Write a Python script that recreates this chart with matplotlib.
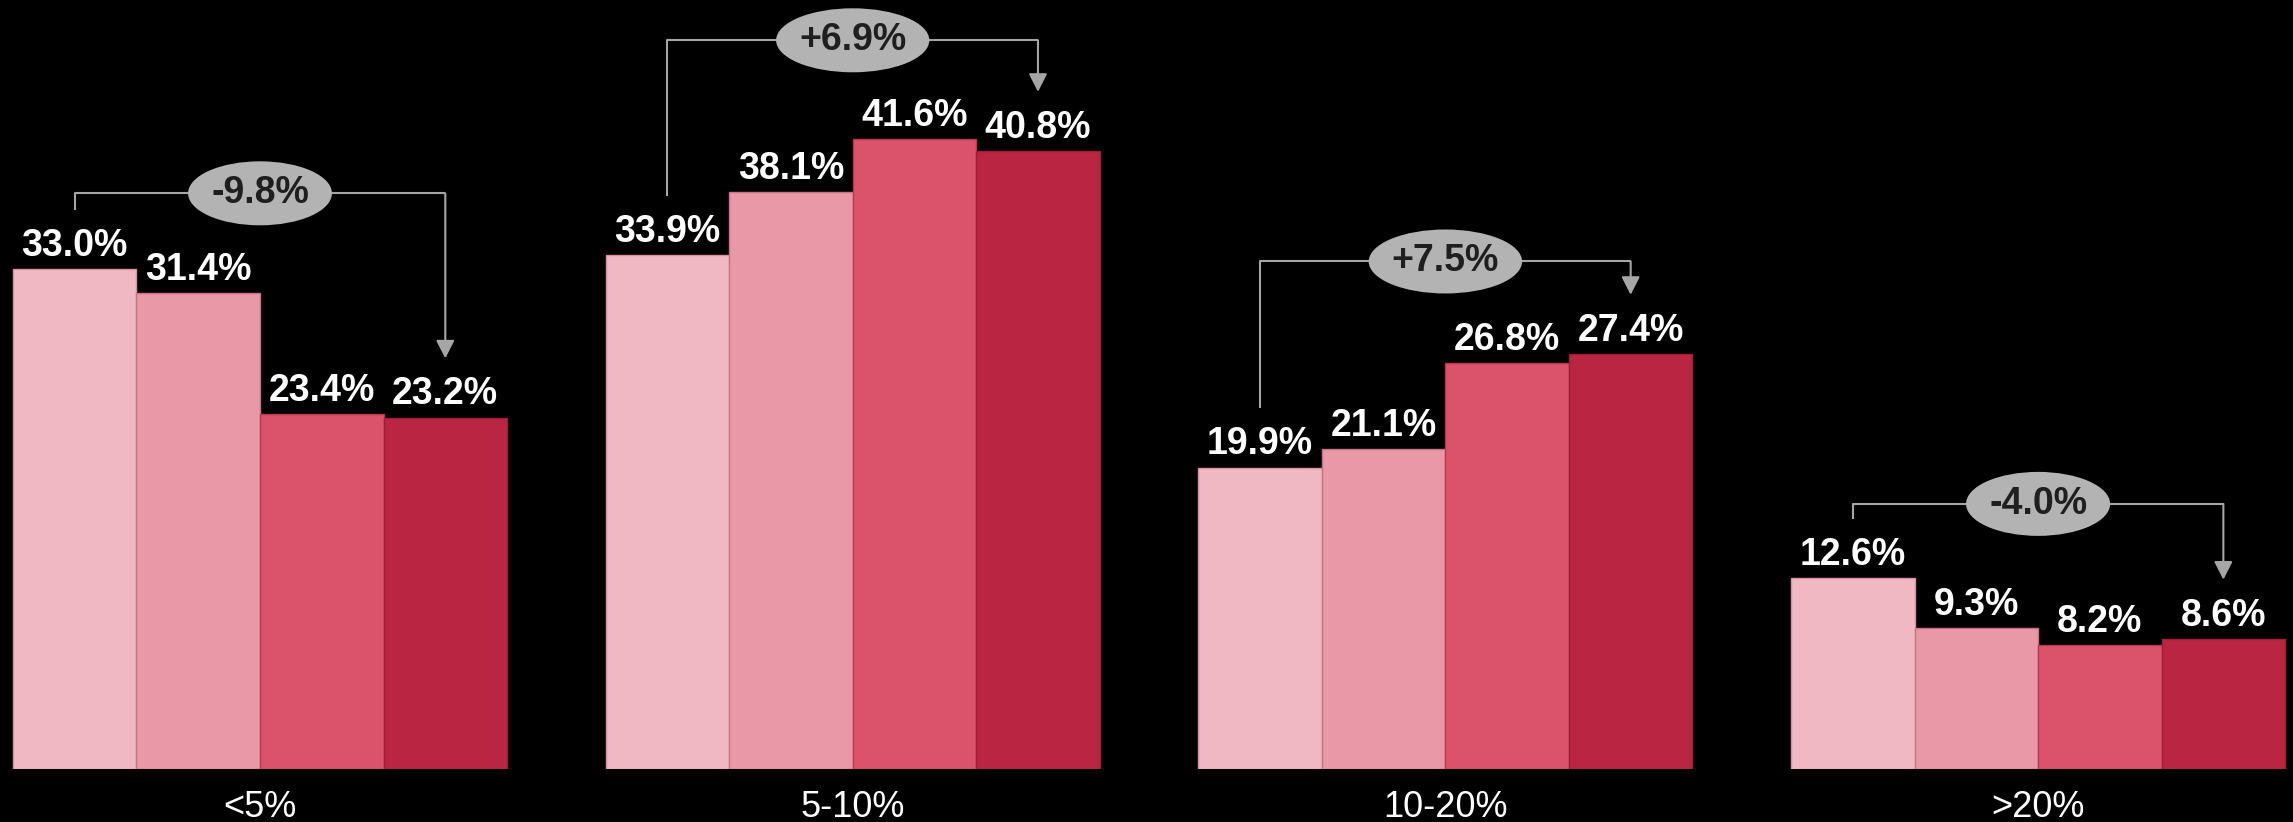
import matplotlib.pyplot as plt
from matplotlib.patches import Ellipse

plt.rcParams['font.family'] = ['Liberation Sans', 'DejaVu Sans']

# Share of companies per growth bracket, four consecutive periods
categories = ['<5%', '5-10%', '10-20%', '>20%']
period_1 = [33.0, 33.9, 19.9, 12.6]
period_2 = [31.4, 38.1, 21.1, 9.3]
period_3 = [23.4, 41.6, 26.8, 8.2]
period_4 = [23.2, 40.8, 27.4, 8.6]

series = [period_1, period_2, period_3, period_4]
bar_colors = ['#F0B8C2', '#E898A6', '#DB536B', '#BA2642']
edge_colors = ['#D8929F', '#C97483', '#B5394F', '#9A1E35']

# height of each bracket line above the bars (data units)
bracket_heights = [38.0, 48.1, 33.5, 17.5]
LEG_GAP = 3.9          # leg/arrow ends this far above the bar
LINE_COLOR = '#A6A6A6'
BUBBLE_COLOR = '#B3B3B3'

fig = plt.figure(figsize=(22.93, 8.22), dpi=100, facecolor='black')
ax = fig.add_axes([0, 53 / 822, 1, 769 / 822])
ax.set_facecolor('black')
ax.set_xlim(-0.4387, 3.4301)
ax.set_ylim(0, 50.76)
ax.axis('off')

bar_w = 0.2084
x = list(range(len(categories)))

for j, (vals, fc, ec) in enumerate(zip(series, bar_colors, edge_colors)):
    offs = (j - 1.5) * bar_w
    xs = [xi + offs for xi in x]
    ax.bar(xs, vals, width=bar_w, color=fc, edgecolor=ec, linewidth=1.0, zorder=2)
    for xi, v in zip(xs, vals):
        ax.annotate(f'{v:.1f}%', (xi, v), xytext=(0, 9.5), textcoords='offset points',
                    ha='center', va='baseline', fontsize=27, fontweight='bold',
                    color='white', zorder=4)

# Category labels under each group
for xi, cat in zip(x, categories):
    ax.annotate(cat, (xi, 0), xytext=(0, -34.6), textcoords='offset points',
                ha='center', va='baseline', fontsize=26, color='white',
                annotation_clip=False)

# Change brackets from first to last period
bubbles = []
for i, xi in enumerate(x):
    first, last = period_1[i], period_4[i]
    change = last - first
    x_left = xi - 1.5 * bar_w
    x_right = xi + 1.5 * bar_w
    top = bracket_heights[i]
    ax.plot([x_left, x_left, x_right], [first + LEG_GAP, top, top],
            color=LINE_COLOR, lw=1.5, solid_capstyle='butt', zorder=3)
    ax.annotate('', xy=(x_right, last + LEG_GAP), xytext=(x_right, top),
                arrowprops=dict(arrowstyle='-|>,head_length=0.55,head_width=0.28',
                                mutation_scale=20, color=LINE_COLOR, lw=1.5,
                                shrinkA=0, shrinkB=0),
                zorder=3)
    t = ax.text(xi, top, f'{change:+.1f}%', ha='center', va='center',
                fontsize=27, fontweight='bold', color='#1F1F1F', zorder=5)
    bubbles.append((xi, top, t))

# grey ellipse behind each change label, sized from the rendered text
fig.canvas.draw()
renderer = fig.canvas.get_renderer()
inv = ax.transData.inverted()
for xi, top, t in bubbles:
    bb = t.get_window_extent(renderer)
    w_px = bb.width + 46
    h_px = 64
    cx, cy = ax.transData.transform((xi, top))
    (x0, y0), (x1, y1) = inv.transform([(cx - w_px / 2, cy - h_px / 2),
                                        (cx + w_px / 2, cy + h_px / 2)])
    ax.add_patch(Ellipse((xi, top), x1 - x0, y1 - y0, facecolor=BUBBLE_COLOR,
                         edgecolor='none', zorder=4.5))

fig.savefig('out.png', dpi=100, facecolor='black')
plt.close(fig)
